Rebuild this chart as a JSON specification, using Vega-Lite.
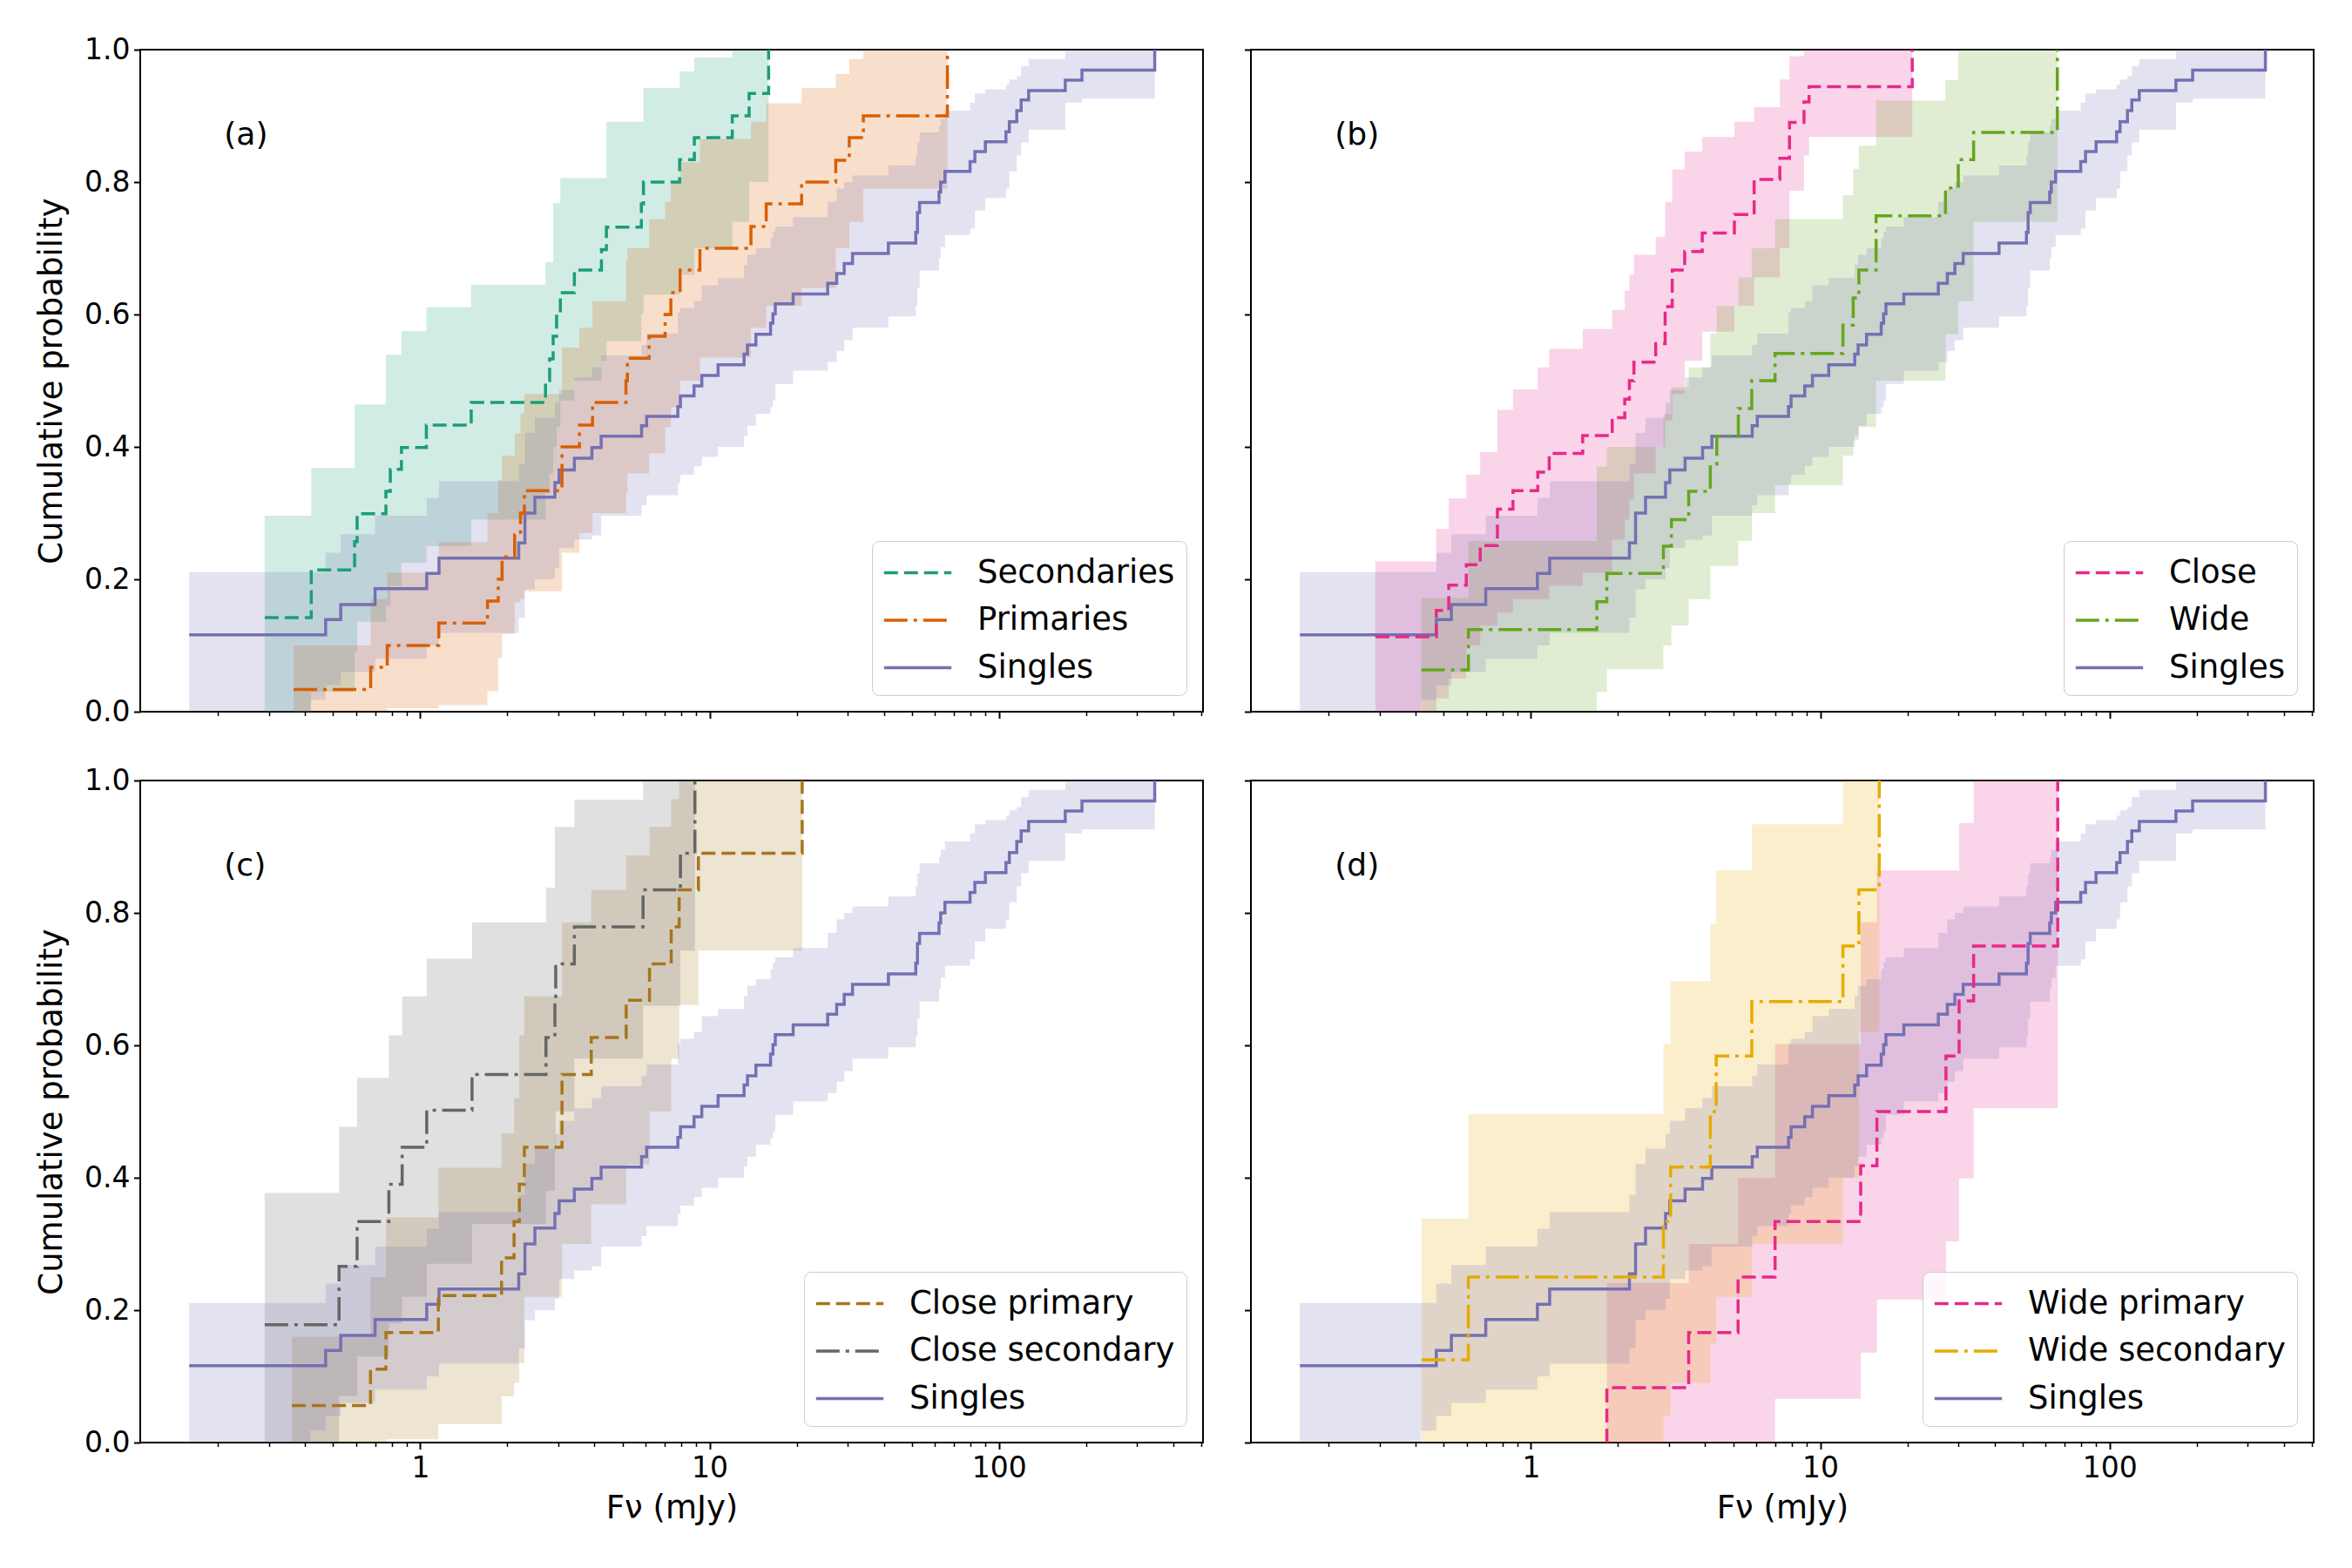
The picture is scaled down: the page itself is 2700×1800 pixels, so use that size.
{
  "$schema": "https://vega.github.io/schema/vega-lite/v6.json",
  "background": "white",
  "padding": {"left": 39, "top": 40, "right": 10, "bottom": 10},
  "datasets": {
    "cdf": [
      {"p": "all", "s": "Singles", "x": 0.159, "y": 0.116, "lo": 0, "hi": 0.211},
      {"p": "all", "s": "Singles", "x": 0.417, "y": 0.116, "lo": 0.018, "hi": 0.211},
      {"p": "all", "s": "Singles", "x": 0.471, "y": 0.139, "lo": 0.04, "hi": 0.24},
      {"p": "all", "s": "Singles", "x": 0.531, "y": 0.162, "lo": 0.06, "hi": 0.268},
      {"p": "all", "s": "Singles", "x": 0.698, "y": 0.186, "lo": 0.08, "hi": 0.296},
      {"p": "all", "s": "Singles", "x": 1.053, "y": 0.209, "lo": 0.10, "hi": 0.323},
      {"p": "all", "s": "Singles", "x": 1.161, "y": 0.232, "lo": 0.119, "hi": 0.348},
      {"p": "all", "s": "Singles", "x": 2.19, "y": 0.255, "lo": 0.142, "hi": 0.374},
      {"p": "all", "s": "Singles", "x": 2.30, "y": 0.300, "lo": 0.185, "hi": 0.421},
      {"p": "all", "s": "Singles", "x": 2.49, "y": 0.324, "lo": 0.20, "hi": 0.444},
      {"p": "all", "s": "Singles", "x": 2.92, "y": 0.346, "lo": 0.217, "hi": 0.466},
      {"p": "all", "s": "Singles", "x": 3.02, "y": 0.365, "lo": 0.247, "hi": 0.486},
      {"p": "all", "s": "Singles", "x": 3.41, "y": 0.383, "lo": 0.26, "hi": 0.505},
      {"p": "all", "s": "Singles", "x": 3.92, "y": 0.399, "lo": 0.266, "hi": 0.52},
      {"p": "all", "s": "Singles", "x": 4.22, "y": 0.416, "lo": 0.296, "hi": 0.538},
      {"p": "all", "s": "Singles", "x": 5.82, "y": 0.432, "lo": 0.312, "hi": 0.554},
      {"p": "all", "s": "Singles", "x": 6.06, "y": 0.446, "lo": 0.327, "hi": 0.571},
      {"p": "all", "s": "Singles", "x": 7.77, "y": 0.461, "lo": 0.345, "hi": 0.603},
      {"p": "all", "s": "Singles", "x": 7.93, "y": 0.477, "lo": 0.358, "hi": 0.61},
      {"p": "all", "s": "Singles", "x": 8.84, "y": 0.492, "lo": 0.371, "hi": 0.62},
      {"p": "all", "s": "Singles", "x": 9.40, "y": 0.508, "lo": 0.385, "hi": 0.644},
      {"p": "all", "s": "Singles", "x": 10.7, "y": 0.524, "lo": 0.40, "hi": 0.655},
      {"p": "all", "s": "Singles", "x": 13.16, "y": 0.540, "lo": 0.417, "hi": 0.675},
      {"p": "all", "s": "Singles", "x": 13.52, "y": 0.554, "lo": 0.432, "hi": 0.69},
      {"p": "all", "s": "Singles", "x": 14.46, "y": 0.570, "lo": 0.45, "hi": 0.70},
      {"p": "all", "s": "Singles", "x": 16.25, "y": 0.587, "lo": 0.46, "hi": 0.715},
      {"p": "all", "s": "Singles", "x": 16.56, "y": 0.601, "lo": 0.47, "hi": 0.725},
      {"p": "all", "s": "Singles", "x": 16.87, "y": 0.616, "lo": 0.495, "hi": 0.733},
      {"p": "all", "s": "Singles", "x": 19.45, "y": 0.631, "lo": 0.515, "hi": 0.747},
      {"p": "all", "s": "Singles", "x": 25.6, "y": 0.647, "lo": 0.528, "hi": 0.77},
      {"p": "all", "s": "Singles", "x": 27.5, "y": 0.662, "lo": 0.545, "hi": 0.79},
      {"p": "all", "s": "Singles", "x": 29.2, "y": 0.677, "lo": 0.561, "hi": 0.80},
      {"p": "all", "s": "Singles", "x": 31.2, "y": 0.692, "lo": 0.58, "hi": 0.81},
      {"p": "all", "s": "Singles", "x": 41.5, "y": 0.708, "lo": 0.597, "hi": 0.825},
      {"p": "all", "s": "Singles", "x": 51.6, "y": 0.724, "lo": 0.613, "hi": 0.84},
      {"p": "all", "s": "Singles", "x": 52.3, "y": 0.754, "lo": 0.64, "hi": 0.86},
      {"p": "all", "s": "Singles", "x": 53.2, "y": 0.769, "lo": 0.666, "hi": 0.875},
      {"p": "all", "s": "Singles", "x": 62.1, "y": 0.785, "lo": 0.685, "hi": 0.885},
      {"p": "all", "s": "Singles", "x": 62.9, "y": 0.800, "lo": 0.702, "hi": 0.895},
      {"p": "all", "s": "Singles", "x": 65.1, "y": 0.816, "lo": 0.72, "hi": 0.908},
      {"p": "all", "s": "Singles", "x": 79.5, "y": 0.831, "lo": 0.73, "hi": 0.92},
      {"p": "all", "s": "Singles", "x": 82.6, "y": 0.846, "lo": 0.757, "hi": 0.934},
      {"p": "all", "s": "Singles", "x": 89.8, "y": 0.861, "lo": 0.776, "hi": 0.94},
      {"p": "all", "s": "Singles", "x": 105.8, "y": 0.876, "lo": 0.79, "hi": 0.947},
      {"p": "all", "s": "Singles", "x": 108.7, "y": 0.891, "lo": 0.816, "hi": 0.955},
      {"p": "all", "s": "Singles", "x": 115.3, "y": 0.908, "lo": 0.84, "hi": 0.96},
      {"p": "all", "s": "Singles", "x": 119.4, "y": 0.924, "lo": 0.86, "hi": 0.975},
      {"p": "all", "s": "Singles", "x": 126.7, "y": 0.938, "lo": 0.879, "hi": 0.986},
      {"p": "all", "s": "Singles", "x": 169.6, "y": 0.954, "lo": 0.92, "hi": 1.0},
      {"p": "all", "s": "Singles", "x": 193.7, "y": 0.969, "lo": 0.926, "hi": 1.0},
      {"p": "all", "s": "Singles", "x": 345.7, "y": 1.0, "lo": 0.926, "hi": 1.0},

      {"p": "a", "s": "Secondaries", "x": 0.290, "y": 0.142, "lo": 0, "hi": 0.296},
      {"p": "a", "s": "Secondaries", "x": 0.420, "y": 0.214, "lo": 0.03, "hi": 0.368},
      {"p": "a", "s": "Secondaries", "x": 0.593, "y": 0.257, "lo": 0.09, "hi": 0.464},
      {"p": "a", "s": "Secondaries", "x": 0.605, "y": 0.299, "lo": 0.136, "hi": 0.464},
      {"p": "a", "s": "Secondaries", "x": 0.761, "y": 0.333, "lo": 0.16, "hi": 0.539},
      {"p": "a", "s": "Secondaries", "x": 0.788, "y": 0.366, "lo": 0.19, "hi": 0.539},
      {"p": "a", "s": "Secondaries", "x": 0.861, "y": 0.399, "lo": 0.225, "hi": 0.575},
      {"p": "a", "s": "Secondaries", "x": 1.05, "y": 0.433, "lo": 0.25, "hi": 0.611},
      {"p": "a", "s": "Secondaries", "x": 1.50, "y": 0.467, "lo": 0.29, "hi": 0.645},
      {"p": "a", "s": "Secondaries", "x": 2.71, "y": 0.500, "lo": 0.33, "hi": 0.679},
      {"p": "a", "s": "Secondaries", "x": 2.80, "y": 0.533, "lo": 0.36, "hi": 0.679},
      {"p": "a", "s": "Secondaries", "x": 2.88, "y": 0.567, "lo": 0.40, "hi": 0.768},
      {"p": "a", "s": "Secondaries", "x": 2.96, "y": 0.600, "lo": 0.43, "hi": 0.768},
      {"p": "a", "s": "Secondaries", "x": 3.05, "y": 0.633, "lo": 0.47, "hi": 0.806},
      {"p": "a", "s": "Secondaries", "x": 3.41, "y": 0.667, "lo": 0.50, "hi": 0.806},
      {"p": "a", "s": "Secondaries", "x": 4.23, "y": 0.698, "lo": 0.53, "hi": 0.806},
      {"p": "a", "s": "Secondaries", "x": 4.40, "y": 0.732, "lo": 0.56, "hi": 0.891},
      {"p": "a", "s": "Secondaries", "x": 5.81, "y": 0.767, "lo": 0.60, "hi": 0.891},
      {"p": "a", "s": "Secondaries", "x": 5.91, "y": 0.800, "lo": 0.63, "hi": 0.942},
      {"p": "a", "s": "Secondaries", "x": 7.88, "y": 0.834, "lo": 0.66, "hi": 0.967},
      {"p": "a", "s": "Secondaries", "x": 8.86, "y": 0.867, "lo": 0.70, "hi": 0.988},
      {"p": "a", "s": "Secondaries", "x": 11.98, "y": 0.900, "lo": 0.74, "hi": 1.0},
      {"p": "a", "s": "Secondaries", "x": 13.7, "y": 0.934, "lo": 0.80, "hi": 1.0},
      {"p": "a", "s": "Secondaries", "x": 16.0, "y": 1.0, "lo": 1.0, "hi": 1.0},

      {"p": "a", "s": "Primaries", "x": 0.365, "y": 0.0336, "lo": 0, "hi": 0.10},
      {"p": "a", "s": "Primaries", "x": 0.674, "y": 0.067, "lo": 0, "hi": 0.17},
      {"p": "a", "s": "Primaries", "x": 0.769, "y": 0.100, "lo": 0.005, "hi": 0.21},
      {"p": "a", "s": "Primaries", "x": 1.159, "y": 0.134, "lo": 0.01, "hi": 0.256},
      {"p": "a", "s": "Primaries", "x": 1.708, "y": 0.167, "lo": 0.031, "hi": 0.30},
      {"p": "a", "s": "Primaries", "x": 1.86, "y": 0.200, "lo": 0.081, "hi": 0.35},
      {"p": "a", "s": "Primaries", "x": 1.918, "y": 0.234, "lo": 0.117, "hi": 0.387},
      {"p": "a", "s": "Primaries", "x": 2.12, "y": 0.267, "lo": 0.165, "hi": 0.42},
      {"p": "a", "s": "Primaries", "x": 2.22, "y": 0.300, "lo": 0.17, "hi": 0.45},
      {"p": "a", "s": "Primaries", "x": 2.29, "y": 0.334, "lo": 0.182, "hi": 0.48},
      {"p": "a", "s": "Primaries", "x": 3.09, "y": 0.400, "lo": 0.24, "hi": 0.55},
      {"p": "a", "s": "Primaries", "x": 3.55, "y": 0.433, "lo": 0.27, "hi": 0.58},
      {"p": "a", "s": "Primaries", "x": 3.94, "y": 0.467, "lo": 0.30, "hi": 0.62},
      {"p": "a", "s": "Primaries", "x": 5.14, "y": 0.500, "lo": 0.33, "hi": 0.68},
      {"p": "a", "s": "Primaries", "x": 5.20, "y": 0.534, "lo": 0.36, "hi": 0.70},
      {"p": "a", "s": "Primaries", "x": 6.18, "y": 0.567, "lo": 0.39, "hi": 0.744},
      {"p": "a", "s": "Primaries", "x": 7.02, "y": 0.600, "lo": 0.43, "hi": 0.77},
      {"p": "a", "s": "Primaries", "x": 7.35, "y": 0.633, "lo": 0.46, "hi": 0.80},
      {"p": "a", "s": "Primaries", "x": 7.91, "y": 0.667, "lo": 0.50, "hi": 0.83},
      {"p": "a", "s": "Primaries", "x": 9.26, "y": 0.700, "lo": 0.535, "hi": 0.865},
      {"p": "a", "s": "Primaries", "x": 13.9, "y": 0.733, "lo": 0.58, "hi": 0.891},
      {"p": "a", "s": "Primaries", "x": 15.7, "y": 0.767, "lo": 0.613, "hi": 0.919},
      {"p": "a", "s": "Primaries", "x": 20.8, "y": 0.800, "lo": 0.64, "hi": 0.942},
      {"p": "a", "s": "Primaries", "x": 27.3, "y": 0.833, "lo": 0.70, "hi": 0.963},
      {"p": "a", "s": "Primaries", "x": 30.4, "y": 0.867, "lo": 0.74, "hi": 0.986},
      {"p": "a", "s": "Primaries", "x": 34.0, "y": 0.900, "lo": 0.79, "hi": 1.0},
      {"p": "a", "s": "Primaries", "x": 66.4, "y": 1.0, "lo": 1.0, "hi": 1.0},

      {"p": "b", "s": "Close", "x": 0.29, "y": 0.113, "lo": 0, "hi": 0.227},
      {"p": "b", "s": "Close", "x": 0.471, "y": 0.153, "lo": 0.02, "hi": 0.276},
      {"p": "b", "s": "Close", "x": 0.52, "y": 0.191, "lo": 0.05, "hi": 0.322},
      {"p": "b", "s": "Close", "x": 0.598, "y": 0.222, "lo": 0.10, "hi": 0.358},
      {"p": "b", "s": "Close", "x": 0.668, "y": 0.251, "lo": 0.13, "hi": 0.392},
      {"p": "b", "s": "Close", "x": 0.766, "y": 0.306, "lo": 0.15, "hi": 0.456},
      {"p": "b", "s": "Close", "x": 0.867, "y": 0.334, "lo": 0.17, "hi": 0.487},
      {"p": "b", "s": "Close", "x": 1.056, "y": 0.362, "lo": 0.17, "hi": 0.52},
      {"p": "b", "s": "Close", "x": 1.157, "y": 0.390, "lo": 0.19, "hi": 0.548},
      {"p": "b", "s": "Close", "x": 1.51, "y": 0.417, "lo": 0.21, "hi": 0.578},
      {"p": "b", "s": "Close", "x": 1.91, "y": 0.444, "lo": 0.26, "hi": 0.607},
      {"p": "b", "s": "Close", "x": 2.11, "y": 0.472, "lo": 0.29, "hi": 0.636},
      {"p": "b", "s": "Close", "x": 2.19, "y": 0.500, "lo": 0.32, "hi": 0.66},
      {"p": "b", "s": "Close", "x": 2.27, "y": 0.528, "lo": 0.36, "hi": 0.69},
      {"p": "b", "s": "Close", "x": 2.70, "y": 0.556, "lo": 0.40, "hi": 0.717},
      {"p": "b", "s": "Close", "x": 2.91, "y": 0.612, "lo": 0.44, "hi": 0.77},
      {"p": "b", "s": "Close", "x": 3.08, "y": 0.667, "lo": 0.48, "hi": 0.819},
      {"p": "b", "s": "Close", "x": 3.40, "y": 0.695, "lo": 0.53, "hi": 0.846},
      {"p": "b", "s": "Close", "x": 3.91, "y": 0.723, "lo": 0.574, "hi": 0.868},
      {"p": "b", "s": "Close", "x": 5.05, "y": 0.751, "lo": 0.613, "hi": 0.891},
      {"p": "b", "s": "Close", "x": 5.91, "y": 0.804, "lo": 0.656, "hi": 0.913},
      {"p": "b", "s": "Close", "x": 7.25, "y": 0.836, "lo": 0.70, "hi": 0.955},
      {"p": "b", "s": "Close", "x": 7.83, "y": 0.890, "lo": 0.787, "hi": 0.99},
      {"p": "b", "s": "Close", "x": 8.79, "y": 0.921, "lo": 0.84, "hi": 1.0},
      {"p": "b", "s": "Close", "x": 9.15, "y": 0.944, "lo": 0.868, "hi": 1.0},
      {"p": "b", "s": "Close", "x": 20.8, "y": 1.0, "lo": 1.0, "hi": 1.0},

      {"p": "b", "s": "Wide", "x": 0.418, "y": 0.063, "lo": 0, "hi": 0.172},
      {"p": "b", "s": "Wide", "x": 0.608, "y": 0.124, "lo": 0, "hi": 0.258},
      {"p": "b", "s": "Wide", "x": 1.69, "y": 0.166, "lo": 0.03, "hi": 0.37},
      {"p": "b", "s": "Wide", "x": 1.83, "y": 0.209, "lo": 0.064, "hi": 0.40},
      {"p": "b", "s": "Wide", "x": 2.87, "y": 0.250, "lo": 0.10, "hi": 0.45},
      {"p": "b", "s": "Wide", "x": 3.06, "y": 0.290, "lo": 0.13, "hi": 0.49},
      {"p": "b", "s": "Wide", "x": 3.51, "y": 0.333, "lo": 0.17, "hi": 0.52},
      {"p": "b", "s": "Wide", "x": 4.17, "y": 0.374, "lo": 0.22, "hi": 0.571},
      {"p": "b", "s": "Wide", "x": 4.39, "y": 0.416, "lo": 0.22, "hi": 0.613},
      {"p": "b", "s": "Wide", "x": 5.21, "y": 0.458, "lo": 0.258, "hi": 0.656},
      {"p": "b", "s": "Wide", "x": 5.80, "y": 0.500, "lo": 0.30, "hi": 0.70},
      {"p": "b", "s": "Wide", "x": 6.98, "y": 0.541, "lo": 0.342, "hi": 0.744},
      {"p": "b", "s": "Wide", "x": 11.98, "y": 0.584, "lo": 0.387, "hi": 0.78},
      {"p": "b", "s": "Wide", "x": 13.0, "y": 0.625, "lo": 0.41, "hi": 0.82},
      {"p": "b", "s": "Wide", "x": 13.6, "y": 0.667, "lo": 0.43, "hi": 0.855},
      {"p": "b", "s": "Wide", "x": 15.6, "y": 0.749, "lo": 0.50, "hi": 0.923},
      {"p": "b", "s": "Wide", "x": 27.1, "y": 0.791, "lo": 0.57, "hi": 0.954},
      {"p": "b", "s": "Wide", "x": 30.0, "y": 0.834, "lo": 0.62, "hi": 1.0},
      {"p": "b", "s": "Wide", "x": 33.9, "y": 0.875, "lo": 0.74, "hi": 1.0},
      {"p": "b", "s": "Wide", "x": 66.0, "y": 1.0, "lo": 1.0, "hi": 1.0},

      {"p": "c", "s": "Close primary", "x": 0.36, "y": 0.056, "lo": 0, "hi": 0.16},
      {"p": "c", "s": "Close primary", "x": 0.673, "y": 0.111, "lo": 0, "hi": 0.25},
      {"p": "c", "s": "Close primary", "x": 0.761, "y": 0.166, "lo": 0.005, "hi": 0.34},
      {"p": "c", "s": "Close primary", "x": 1.155, "y": 0.222, "lo": 0.028, "hi": 0.415},
      {"p": "c", "s": "Close primary", "x": 1.91, "y": 0.279, "lo": 0.07, "hi": 0.467},
      {"p": "c", "s": "Close primary", "x": 2.11, "y": 0.334, "lo": 0.09, "hi": 0.52},
      {"p": "c", "s": "Close primary", "x": 2.20, "y": 0.390, "lo": 0.12, "hi": 0.615},
      {"p": "c", "s": "Close primary", "x": 2.29, "y": 0.446, "lo": 0.22, "hi": 0.674},
      {"p": "c", "s": "Close primary", "x": 3.09, "y": 0.556, "lo": 0.30, "hi": 0.786},
      {"p": "c", "s": "Close primary", "x": 3.90, "y": 0.612, "lo": 0.36, "hi": 0.835},
      {"p": "c", "s": "Close primary", "x": 5.15, "y": 0.668, "lo": 0.42, "hi": 0.887},
      {"p": "c", "s": "Close primary", "x": 6.20, "y": 0.723, "lo": 0.50, "hi": 0.93},
      {"p": "c", "s": "Close primary", "x": 7.37, "y": 0.779, "lo": 0.58, "hi": 0.972},
      {"p": "c", "s": "Close primary", "x": 7.85, "y": 0.835, "lo": 0.661, "hi": 1.0},
      {"p": "c", "s": "Close primary", "x": 9.15, "y": 0.890, "lo": 0.743, "hi": 1.0},
      {"p": "c", "s": "Close primary", "x": 20.9, "y": 1.0, "lo": 1.0, "hi": 1.0},

      {"p": "c", "s": "Close secondary", "x": 0.29, "y": 0.178, "lo": 0, "hi": 0.377},
      {"p": "c", "s": "Close secondary", "x": 0.524, "y": 0.266, "lo": 0.07, "hi": 0.477},
      {"p": "c", "s": "Close secondary", "x": 0.605, "y": 0.334, "lo": 0.13, "hi": 0.551},
      {"p": "c", "s": "Close secondary", "x": 0.779, "y": 0.390, "lo": 0.18, "hi": 0.615},
      {"p": "c", "s": "Close secondary", "x": 0.866, "y": 0.446, "lo": 0.22, "hi": 0.674},
      {"p": "c", "s": "Close secondary", "x": 1.053, "y": 0.502, "lo": 0.27, "hi": 0.731},
      {"p": "c", "s": "Close secondary", "x": 1.51, "y": 0.556, "lo": 0.33, "hi": 0.786},
      {"p": "c", "s": "Close secondary", "x": 2.72, "y": 0.612, "lo": 0.38, "hi": 0.838},
      {"p": "c", "s": "Close secondary", "x": 2.92, "y": 0.668, "lo": 0.44, "hi": 0.93},
      {"p": "c", "s": "Close secondary", "x": 2.94, "y": 0.723, "lo": 0.50, "hi": 0.93},
      {"p": "c", "s": "Close secondary", "x": 3.41, "y": 0.779, "lo": 0.58, "hi": 0.971},
      {"p": "c", "s": "Close secondary", "x": 5.89, "y": 0.835, "lo": 0.66, "hi": 1.0},
      {"p": "c", "s": "Close secondary", "x": 7.93, "y": 0.890, "lo": 0.743, "hi": 1.0},
      {"p": "c", "s": "Close secondary", "x": 8.9, "y": 1.0, "lo": 1.0, "hi": 1.0},

      {"p": "d", "s": "Wide primary", "x": 1.83, "y": 0, "lo": 0, "hi": 0.241},
      {"p": "d", "s": "Wide primary", "x": 1.83, "y": 0.083, "lo": 0, "hi": 0.241},
      {"p": "d", "s": "Wide primary", "x": 3.51, "y": 0.166, "lo": 0, "hi": 0.30},
      {"p": "d", "s": "Wide primary", "x": 5.2, "y": 0.250, "lo": 0, "hi": 0.40},
      {"p": "d", "s": "Wide primary", "x": 6.98, "y": 0.334, "lo": 0.066, "hi": 0.602},
      {"p": "d", "s": "Wide primary", "x": 13.8, "y": 0.418, "lo": 0.136, "hi": 0.786},
      {"p": "d", "s": "Wide primary", "x": 15.7, "y": 0.500, "lo": 0.216, "hi": 0.864},
      {"p": "d", "s": "Wide primary", "x": 27.2, "y": 0.584, "lo": 0.304, "hi": 0.864},
      {"p": "d", "s": "Wide primary", "x": 30.2, "y": 0.667, "lo": 0.399, "hi": 0.936},
      {"p": "d", "s": "Wide primary", "x": 33.9, "y": 0.750, "lo": 0.505, "hi": 1.0},
      {"p": "d", "s": "Wide primary", "x": 66.2, "y": 1.0, "lo": 1.0, "hi": 1.0},

      {"p": "d", "s": "Wide secondary", "x": 0.419, "y": 0.125, "lo": 0, "hi": 0.338},
      {"p": "d", "s": "Wide secondary", "x": 0.608, "y": 0.250, "lo": 0, "hi": 0.496},
      {"p": "d", "s": "Wide secondary", "x": 2.87, "y": 0.334, "lo": 0.04, "hi": 0.602},
      {"p": "d", "s": "Wide secondary", "x": 3.04, "y": 0.416, "lo": 0.09, "hi": 0.697},
      {"p": "d", "s": "Wide secondary", "x": 4.17, "y": 0.500, "lo": 0.15, "hi": 0.784},
      {"p": "d", "s": "Wide secondary", "x": 4.37, "y": 0.584, "lo": 0.22, "hi": 0.864},
      {"p": "d", "s": "Wide secondary", "x": 5.80, "y": 0.666, "lo": 0.30, "hi": 0.934},
      {"p": "d", "s": "Wide secondary", "x": 11.98, "y": 0.750, "lo": 0.40, "hi": 1.0},
      {"p": "d", "s": "Wide secondary", "x": 13.6, "y": 0.835, "lo": 0.62, "hi": 1.0},
      {"p": "d", "s": "Wide secondary", "x": 16.0, "y": 1.0, "lo": 1.0, "hi": 1.0}
    ],
    "labels": [
      {"p": "a", "label": "(a)", "x": 0.21, "y": 0.856},
      {"p": "b", "label": "(b)", "x": 0.21, "y": 0.856},
      {"p": "c", "label": "(c)", "x": 0.21, "y": 0.856},
      {"p": "d", "label": "(d)", "x": 0.21, "y": 0.856}
    ]
  },
  "data": {"name": "cdf"},
  "columns": 2,
  "bounds": "flush",
  "spacing": {"row": 79, "column": 55},
  "resolve": {
    "scale": {"x": "independent", "y": "independent", "color": "independent", "strokeDash": "independent"},
    "legend": {"color": "independent", "strokeDash": "independent"}
  },
  "concat": [
    {
      "width": 1220, "height": 760,
      "resolve": {"axis": {"x": "independent", "y": "independent"}},
      "layer": [
        {
          "transform": [{"filter": "datum.p == 'a' && datum.s == 'Secondaries'"}],
          "mark": {"type": "area", "interpolate": "step-after", "fill": "#1b9e77", "fillOpacity": 0.2},
          "encoding": {
            "x": {"field": "x", "type": "quantitative", "scale": {"type": "log", "domain": [0.1077, 507.6], "nice": false},
                  "axis": {"orient": "bottom", "values": [1, 10, 100], "labels": false, "tickSize": 7.5, "tickWidth": 2, "domain": false, "grid": false, "title": null}},
            "y": {"field": "hi", "type": "quantitative", "scale": {"domain": [0, 1], "nice": false},
                  "axis": {"orient": "left", "values": [0, 0.2, 0.4, 0.6, 0.8, 1], "format": ".1f", "tickSize": 7.5, "tickWidth": 2, "labelPadding": 4.5, "domain": false, "grid": false, "title": "Cumulative probability", "titlePadding": 18}},
            "y2": {"field": "lo"}
          }
        },
        {
          "transform": [{"filter": "datum.p == 'a' && datum.s == 'Primaries'"}],
          "mark": {"type": "area", "interpolate": "step-after", "fill": "#d95f02", "fillOpacity": 0.2},
          "encoding": {
            "x": {"field": "x", "type": "quantitative", "axis": null},
            "y": {"field": "hi", "type": "quantitative", "axis": null},
            "y2": {"field": "lo"}
          }
        },
        {
          "transform": [{"filter": "datum.s == 'Singles'"}],
          "mark": {"type": "area", "interpolate": "step-after", "fill": "#7570b3", "fillOpacity": 0.2},
          "encoding": {
            "x": {"field": "x", "type": "quantitative", "axis": null},
            "y": {"field": "hi", "type": "quantitative", "axis": null},
            "y2": {"field": "lo"}
          }
        },
        {
          "transform": [{"filter": "datum.p == 'a' || datum.p == 'all'"}],
          "mark": {"type": "line", "interpolate": "step-after", "strokeWidth": 3.5},
          "encoding": {
            "x": {"field": "x", "type": "quantitative",
                  "axis": {"orient": "bottom", "values": [0.2, 0.3, 0.4, 0.5, 0.6, 0.7, 0.8, 0.9, 2, 3, 4, 5, 6, 7, 8, 9, 20, 30, 40, 50, 60, 70, 80, 90, 200, 300, 400, 500], "labels": false, "tickSize": 4.5, "tickWidth": 1.5, "domain": false, "grid": false, "title": null}},
            "y": {"field": "y", "type": "quantitative", "axis": null},
            "color": {"field": "s", "type": "nominal", "scale": {"domain": ["Secondaries", "Primaries", "Singles"], "range": ["#1b9e77", "#d95f02", "#7570b3"]},
                      "legend": {"title": null, "orient": "bottom-right", "offset": 19, "symbolType": "M-1.8,0H1.8", "symbolSize": 1849, "symbolStrokeWidth": 3.5, "symbolOffset": 16, "labelFontSize": 37, "labelOffset": 45, "rowPadding": 12.5, "padding": 13, "fillColor": "rgba(255,255,255,0.8)", "strokeColor": "#cccccc", "cornerRadius": 8}},
            "strokeDash": {"field": "s", "type": "nominal", "scale": {"domain": ["Secondaries", "Primaries", "Singles"], "range": [[16, 7], [27, 7, 4, 7], [1, 0]]},
                      "legend": {"title": null, "orient": "bottom-right", "offset": 19, "symbolType": "M-1.8,0H1.8", "symbolSize": 1849, "symbolStrokeWidth": 3.5, "symbolOffset": 16, "labelFontSize": 37, "labelOffset": 45, "rowPadding": 12.5, "padding": 13, "fillColor": "rgba(255,255,255,0.8)", "strokeColor": "#cccccc", "cornerRadius": 8}}
          }
        },
        {
          "data": {"name": "labels"},
          "transform": [{"filter": "datum.p == 'a'"}],
          "mark": {"type": "text", "align": "left", "baseline": "alphabetic", "fontSize": 36, "font": "DejaVu Sans", "color": "black"},
          "encoding": {
            "x": {"field": "x", "type": "quantitative", "axis": null},
            "y": {"field": "y", "type": "quantitative", "axis": null},
            "text": {"field": "label"}
          }
        }
      ]
    },
    {
      "width": 1220, "height": 760,
      "resolve": {"axis": {"x": "independent", "y": "independent"}},
      "layer": [
        {
          "transform": [{"filter": "datum.p == 'b' && datum.s == 'Close'"}],
          "mark": {"type": "area", "interpolate": "step-after", "fill": "#e7298a", "fillOpacity": 0.2},
          "encoding": {
            "x": {"field": "x", "type": "quantitative", "scale": {"type": "log", "domain": [0.1077, 507.6], "nice": false},
                  "axis": {"orient": "bottom", "values": [1, 10, 100], "labels": false, "tickSize": 7.5, "tickWidth": 2, "domain": false, "grid": false, "title": null}},
            "y": {"field": "hi", "type": "quantitative", "scale": {"domain": [0, 1], "nice": false},
                  "axis": {"orient": "left", "values": [0, 0.2, 0.4, 0.6, 0.8, 1], "labels": false, "tickSize": 7.5, "tickWidth": 2, "domain": false, "grid": false, "title": null}},
            "y2": {"field": "lo"}
          }
        },
        {
          "transform": [{"filter": "datum.p == 'b' && datum.s == 'Wide'"}],
          "mark": {"type": "area", "interpolate": "step-after", "fill": "#66a61e", "fillOpacity": 0.2},
          "encoding": {
            "x": {"field": "x", "type": "quantitative", "axis": null},
            "y": {"field": "hi", "type": "quantitative", "axis": null},
            "y2": {"field": "lo"}
          }
        },
        {
          "transform": [{"filter": "datum.s == 'Singles'"}],
          "mark": {"type": "area", "interpolate": "step-after", "fill": "#7570b3", "fillOpacity": 0.2},
          "encoding": {
            "x": {"field": "x", "type": "quantitative", "axis": null},
            "y": {"field": "hi", "type": "quantitative", "axis": null},
            "y2": {"field": "lo"}
          }
        },
        {
          "transform": [{"filter": "datum.p == 'b' || datum.p == 'all'"}],
          "mark": {"type": "line", "interpolate": "step-after", "strokeWidth": 3.5},
          "encoding": {
            "x": {"field": "x", "type": "quantitative",
                  "axis": {"orient": "bottom", "values": [0.2, 0.3, 0.4, 0.5, 0.6, 0.7, 0.8, 0.9, 2, 3, 4, 5, 6, 7, 8, 9, 20, 30, 40, 50, 60, 70, 80, 90, 200, 300, 400, 500], "labels": false, "tickSize": 4.5, "tickWidth": 1.5, "domain": false, "grid": false, "title": null}},
            "y": {"field": "y", "type": "quantitative", "axis": null},
            "color": {"field": "s", "type": "nominal", "scale": {"domain": ["Close", "Wide", "Singles"], "range": ["#e7298a", "#66a61e", "#7570b3"]},
                      "legend": {"title": null, "orient": "bottom-right", "offset": 19, "symbolType": "M-1.8,0H1.8", "symbolSize": 1849, "symbolStrokeWidth": 3.5, "symbolOffset": 16, "labelFontSize": 37, "labelOffset": 45, "rowPadding": 12.5, "padding": 13, "fillColor": "rgba(255,255,255,0.8)", "strokeColor": "#cccccc", "cornerRadius": 8}},
            "strokeDash": {"field": "s", "type": "nominal", "scale": {"domain": ["Close", "Wide", "Singles"], "range": [[16, 7], [27, 7, 4, 7], [1, 0]]},
                      "legend": {"title": null, "orient": "bottom-right", "offset": 19, "symbolType": "M-1.8,0H1.8", "symbolSize": 1849, "symbolStrokeWidth": 3.5, "symbolOffset": 16, "labelFontSize": 37, "labelOffset": 45, "rowPadding": 12.5, "padding": 13, "fillColor": "rgba(255,255,255,0.8)", "strokeColor": "#cccccc", "cornerRadius": 8}}
          }
        },
        {
          "data": {"name": "labels"},
          "transform": [{"filter": "datum.p == 'b'"}],
          "mark": {"type": "text", "align": "left", "baseline": "alphabetic", "fontSize": 36, "font": "DejaVu Sans", "color": "black"},
          "encoding": {
            "x": {"field": "x", "type": "quantitative", "axis": null},
            "y": {"field": "y", "type": "quantitative", "axis": null},
            "text": {"field": "label"}
          }
        }
      ]
    },
    {
      "width": 1220, "height": 760,
      "resolve": {"axis": {"x": "independent", "y": "independent"}},
      "layer": [
        {
          "transform": [{"filter": "datum.p == 'c' && datum.s == 'Close primary'"}],
          "mark": {"type": "area", "interpolate": "step-after", "fill": "#a6761d", "fillOpacity": 0.2},
          "encoding": {
            "x": {"field": "x", "type": "quantitative", "scale": {"type": "log", "domain": [0.1077, 507.6], "nice": false},
                  "axis": {"orient": "bottom", "values": [1, 10, 100], "format": "d", "labelFlush": false, "labelOverlap": false, "labelPadding": 6, "tickSize": 7.5, "tickWidth": 2, "domain": false, "grid": false, "title": "Fν (mJy)", "titlePadding": 11}},
            "y": {"field": "hi", "type": "quantitative", "scale": {"domain": [0, 1], "nice": false},
                  "axis": {"orient": "left", "values": [0, 0.2, 0.4, 0.6, 0.8, 1], "format": ".1f", "tickSize": 7.5, "tickWidth": 2, "labelPadding": 4.5, "domain": false, "grid": false, "title": "Cumulative probability", "titlePadding": 18}},
            "y2": {"field": "lo"}
          }
        },
        {
          "transform": [{"filter": "datum.p == 'c' && datum.s == 'Close secondary'"}],
          "mark": {"type": "area", "interpolate": "step-after", "fill": "#666666", "fillOpacity": 0.2},
          "encoding": {
            "x": {"field": "x", "type": "quantitative", "axis": null},
            "y": {"field": "hi", "type": "quantitative", "axis": null},
            "y2": {"field": "lo"}
          }
        },
        {
          "transform": [{"filter": "datum.s == 'Singles'"}],
          "mark": {"type": "area", "interpolate": "step-after", "fill": "#7570b3", "fillOpacity": 0.2},
          "encoding": {
            "x": {"field": "x", "type": "quantitative", "axis": null},
            "y": {"field": "hi", "type": "quantitative", "axis": null},
            "y2": {"field": "lo"}
          }
        },
        {
          "transform": [{"filter": "datum.p == 'c' || datum.p == 'all'"}],
          "mark": {"type": "line", "interpolate": "step-after", "strokeWidth": 3.5},
          "encoding": {
            "x": {"field": "x", "type": "quantitative",
                  "axis": {"orient": "bottom", "values": [0.2, 0.3, 0.4, 0.5, 0.6, 0.7, 0.8, 0.9, 2, 3, 4, 5, 6, 7, 8, 9, 20, 30, 40, 50, 60, 70, 80, 90, 200, 300, 400, 500], "labels": false, "tickSize": 4.5, "tickWidth": 1.5, "domain": false, "grid": false, "title": null}},
            "y": {"field": "y", "type": "quantitative", "axis": null},
            "color": {"field": "s", "type": "nominal", "scale": {"domain": ["Close primary", "Close secondary", "Singles"], "range": ["#a6761d", "#666666", "#7570b3"]},
                      "legend": {"title": null, "orient": "bottom-right", "offset": 19, "symbolType": "M-1.8,0H1.8", "symbolSize": 1849, "symbolStrokeWidth": 3.5, "symbolOffset": 16, "labelFontSize": 37, "labelOffset": 45, "rowPadding": 12.5, "padding": 13, "fillColor": "rgba(255,255,255,0.8)", "strokeColor": "#cccccc", "cornerRadius": 8}},
            "strokeDash": {"field": "s", "type": "nominal", "scale": {"domain": ["Close primary", "Close secondary", "Singles"], "range": [[16, 7], [27, 7, 4, 7], [1, 0]]},
                      "legend": {"title": null, "orient": "bottom-right", "offset": 19, "symbolType": "M-1.8,0H1.8", "symbolSize": 1849, "symbolStrokeWidth": 3.5, "symbolOffset": 16, "labelFontSize": 37, "labelOffset": 45, "rowPadding": 12.5, "padding": 13, "fillColor": "rgba(255,255,255,0.8)", "strokeColor": "#cccccc", "cornerRadius": 8}}
          }
        },
        {
          "data": {"name": "labels"},
          "transform": [{"filter": "datum.p == 'c'"}],
          "mark": {"type": "text", "align": "left", "baseline": "alphabetic", "fontSize": 36, "font": "DejaVu Sans", "color": "black"},
          "encoding": {
            "x": {"field": "x", "type": "quantitative", "axis": null},
            "y": {"field": "y", "type": "quantitative", "axis": null},
            "text": {"field": "label"}
          }
        }
      ]
    },
    {
      "width": 1220, "height": 760,
      "resolve": {"axis": {"x": "independent", "y": "independent"}},
      "layer": [
        {
          "transform": [{"filter": "datum.p == 'd' && datum.s == 'Wide primary'"}],
          "mark": {"type": "area", "interpolate": "step-after", "fill": "#e7298a", "fillOpacity": 0.2},
          "encoding": {
            "x": {"field": "x", "type": "quantitative", "scale": {"type": "log", "domain": [0.1077, 507.6], "nice": false},
                  "axis": {"orient": "bottom", "values": [1, 10, 100], "format": "d", "labelFlush": false, "labelOverlap": false, "labelPadding": 6, "tickSize": 7.5, "tickWidth": 2, "domain": false, "grid": false, "title": "Fν (mJy)", "titlePadding": 11}},
            "y": {"field": "hi", "type": "quantitative", "scale": {"domain": [0, 1], "nice": false},
                  "axis": {"orient": "left", "values": [0, 0.2, 0.4, 0.6, 0.8, 1], "labels": false, "tickSize": 7.5, "tickWidth": 2, "domain": false, "grid": false, "title": null}},
            "y2": {"field": "lo"}
          }
        },
        {
          "transform": [{"filter": "datum.p == 'd' && datum.s == 'Wide secondary'"}],
          "mark": {"type": "area", "interpolate": "step-after", "fill": "#e6ab02", "fillOpacity": 0.2},
          "encoding": {
            "x": {"field": "x", "type": "quantitative", "axis": null},
            "y": {"field": "hi", "type": "quantitative", "axis": null},
            "y2": {"field": "lo"}
          }
        },
        {
          "transform": [{"filter": "datum.s == 'Singles'"}],
          "mark": {"type": "area", "interpolate": "step-after", "fill": "#7570b3", "fillOpacity": 0.2},
          "encoding": {
            "x": {"field": "x", "type": "quantitative", "axis": null},
            "y": {"field": "hi", "type": "quantitative", "axis": null},
            "y2": {"field": "lo"}
          }
        },
        {
          "transform": [{"filter": "datum.p == 'd' || datum.p == 'all'"}],
          "mark": {"type": "line", "interpolate": "step-after", "strokeWidth": 3.5},
          "encoding": {
            "x": {"field": "x", "type": "quantitative",
                  "axis": {"orient": "bottom", "values": [0.2, 0.3, 0.4, 0.5, 0.6, 0.7, 0.8, 0.9, 2, 3, 4, 5, 6, 7, 8, 9, 20, 30, 40, 50, 60, 70, 80, 90, 200, 300, 400, 500], "labels": false, "tickSize": 4.5, "tickWidth": 1.5, "domain": false, "grid": false, "title": null}},
            "y": {"field": "y", "type": "quantitative", "axis": null},
            "color": {"field": "s", "type": "nominal", "scale": {"domain": ["Wide primary", "Wide secondary", "Singles"], "range": ["#e7298a", "#e6ab02", "#7570b3"]},
                      "legend": {"title": null, "orient": "bottom-right", "offset": 19, "symbolType": "M-1.8,0H1.8", "symbolSize": 1849, "symbolStrokeWidth": 3.5, "symbolOffset": 16, "labelFontSize": 37, "labelOffset": 45, "rowPadding": 12.5, "padding": 13, "fillColor": "rgba(255,255,255,0.8)", "strokeColor": "#cccccc", "cornerRadius": 8}},
            "strokeDash": {"field": "s", "type": "nominal", "scale": {"domain": ["Wide primary", "Wide secondary", "Singles"], "range": [[16, 7], [27, 7, 4, 7], [1, 0]]},
                      "legend": {"title": null, "orient": "bottom-right", "offset": 19, "symbolType": "M-1.8,0H1.8", "symbolSize": 1849, "symbolStrokeWidth": 3.5, "symbolOffset": 16, "labelFontSize": 37, "labelOffset": 45, "rowPadding": 12.5, "padding": 13, "fillColor": "rgba(255,255,255,0.8)", "strokeColor": "#cccccc", "cornerRadius": 8}}
          }
        },
        {
          "data": {"name": "labels"},
          "transform": [{"filter": "datum.p == 'd'"}],
          "mark": {"type": "text", "align": "left", "baseline": "alphabetic", "fontSize": 36, "font": "DejaVu Sans", "color": "black"},
          "encoding": {
            "x": {"field": "x", "type": "quantitative", "axis": null},
            "y": {"field": "y", "type": "quantitative", "axis": null},
            "text": {"field": "label"}
          }
        }
      ]
    }
  ],
  "config": {
    "font": "DejaVu Sans",
    "view": {"stroke": "black", "strokeWidth": 2},
    "axis": {"labelFont": "DejaVu Sans", "titleFont": "DejaVu Sans", "labelColor": "black", "titleColor": "black", "tickColor": "black", "labelFontSize": 33, "titleFontSize": 37, "titleFontWeight": "normal"},
    "legend": {"labelFont": "DejaVu Sans", "labelColor": "black", "labelLimit": 0}
  }
}
